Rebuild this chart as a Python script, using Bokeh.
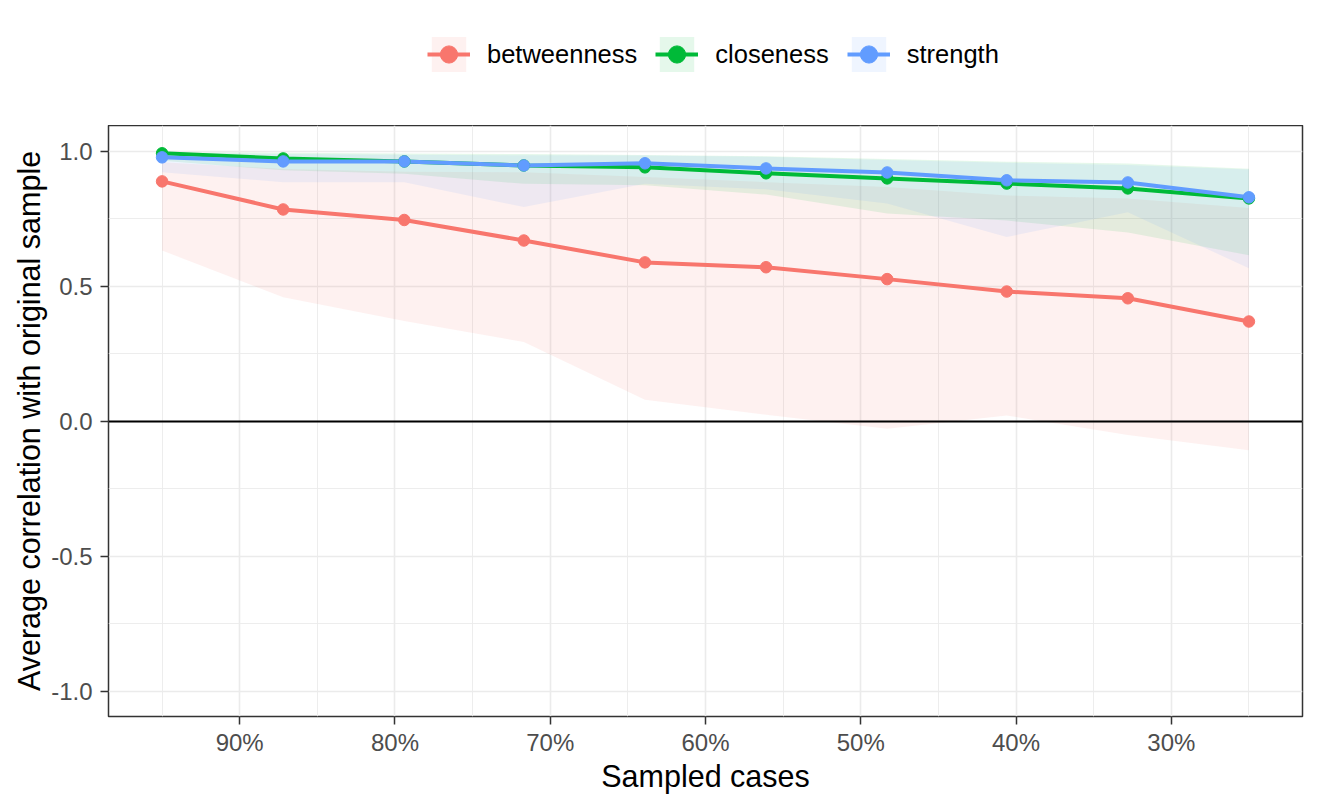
from bokeh.plotting import figure
from bokeh.layouts import column
from bokeh.models import (Range1d, FixedTicker, Legend, LegendItem, Span)
from bokeh.embed import file_html
from bokeh.resources import INLINE

# ---- data ----
sampled_pct = [95.0, 87.2, 79.4, 71.7, 63.9, 56.1, 48.3, 40.6, 32.8, 25.0]

betweenness_mean = [0.889, 0.785, 0.746, 0.670, 0.589, 0.571, 0.527, 0.481, 0.456, 0.370]
betweenness_low = [0.633, 0.460, 0.372, 0.294, 0.080, 0.025, -0.027, 0.022, -0.050, -0.107]
betweenness_high = [0.960, 0.935, 0.925, 0.923, 0.905, 0.886, 0.868, 0.837, 0.826, 0.790]

closeness_mean = [0.993, 0.974, 0.963, 0.948, 0.941, 0.919, 0.900, 0.881, 0.863, 0.826]
closeness_low = [0.965, 0.930, 0.917, 0.880, 0.875, 0.840, 0.770, 0.744, 0.700, 0.615]
closeness_high = [0.998, 0.995, 0.992, 0.990, 0.987, 0.982, 0.972, 0.962, 0.955, 0.936]

strength_mean = [0.978, 0.963, 0.963, 0.948, 0.956, 0.937, 0.922, 0.893, 0.885, 0.830]
strength_low = [0.923, 0.886, 0.886, 0.794, 0.880, 0.860, 0.807, 0.683, 0.775, 0.567]
strength_high = [0.995, 0.990, 0.988, 0.986, 0.985, 0.980, 0.968, 0.958, 0.950, 0.933]

series_names = ["betweenness", "closeness", "strength"]
series_colors = ["#F8766D", "#00BA38", "#619CFF"]

x_ticks = [90, 80, 70, 60, 50, 40, 30]
x_tick_labels = ["90%", "80%", "70%", "60%", "50%", "40%", "30%"]
x_minor = [95, 85, 75, 65, 55, 45, 35, 25]
y_ticks = [1.0, 0.5, 0.0, -0.5, -1.0]
y_tick_labels = ["1.0", "0.5", "0.0", "-0.5", "-1.0"]
y_minor = [0.75, 0.25, -0.25, -0.75]

FONT = "Liberation Sans"
LINE_W = 4
PT_SIZE = 11.5
BAND_ALPHA = 0.1

means = [betweenness_mean, closeness_mean, strength_mean]
lows = [betweenness_low, closeness_low, strength_low]
highs = [betweenness_high, closeness_high, strength_high]

X_RANGE = (98.45, 21.55)

# ---------------- main panel ----------------
p = figure(frame_width=1194, frame_height=591,
           min_border_left=108, min_border_right=16,
           min_border_top=0, min_border_bottom=92,
           x_range=Range1d(*X_RANGE), y_range=Range1d(-1.093, 1.096),
           output_backend="svg", toolbar_location=None,
           background_fill_color="white", border_fill_color="white")

p.outline_line_color = "#333333"
p.outline_line_width = 1.5

for g, ticks, minor in ((p.xgrid[0], x_ticks, x_minor), (p.ygrid[0], y_ticks, y_minor)):
    g.ticker = FixedTicker(ticks=ticks, minor_ticks=minor)
    g.grid_line_color = "#EBEBEB"
    g.grid_line_width = 1.6
    g.minor_grid_line_color = "#EBEBEB"
    g.minor_grid_line_width = 0.9

p.xaxis.ticker = FixedTicker(ticks=x_ticks, minor_ticks=[])
p.xaxis.major_label_overrides = {t: l for t, l in zip(x_ticks, x_tick_labels)}
p.yaxis.ticker = FixedTicker(ticks=y_ticks, minor_ticks=[])
p.yaxis.major_label_overrides = {t: l for t, l in zip(y_ticks, y_tick_labels)}
p.xaxis.axis_label = "Sampled cases"
p.yaxis.axis_label = "Average correlation with original sample"
for ax in (p.xaxis[0], p.yaxis[0]):
    ax.axis_line_color = None
    ax.major_tick_line_color = "#333333"
    ax.major_tick_line_width = 1.5
    ax.major_tick_out = 8
    ax.major_tick_in = 0
    ax.minor_tick_line_color = None
    ax.major_label_text_font = FONT
    ax.major_label_text_font_size = "24px"
    ax.major_label_text_color = "#4D4D4D"
    ax.axis_label_text_font = FONT
    ax.axis_label_text_font_size = "30.5px"
    ax.axis_label_text_font_style = "normal"
    ax.axis_label_text_color = "black"
p.xaxis.major_label_standoff = 4
p.xaxis.axis_label_standoff = 0
p.yaxis.major_label_standoff = 8
p.yaxis.axis_label_standoff = 2

p.add_layout(Span(location=0, dimension="width", line_color="black", line_width=2))

for lo, hi, c in zip(lows, highs, series_colors):
    p.varea(x=sampled_pct, y1=lo, y2=hi, fill_color=c, fill_alpha=BAND_ALPHA)
for m, c in zip(means, series_colors):
    p.line(x=sampled_pct, y=m, line_color=c, line_width=LINE_W)
for m, c in zip(means, series_colors):
    p.scatter(x=sampled_pct, y=m, size=PT_SIZE, fill_color=c, line_color=c)

# ---------------- legend strip (above the panel) ----------------
# the same series drawn into a strip whose y-range shows none of them,
# only so that the legend can show their keys
lg = figure(frame_width=1194, frame_height=125,
            min_border_left=108, min_border_right=16,
            min_border_top=0, min_border_bottom=0,
            x_range=Range1d(*X_RANGE), y_range=Range1d(10, 11),
            x_axis_location=None, y_axis_location=None,
            output_backend="svg", toolbar_location=None,
            background_fill_color="white", border_fill_color="white")
lg.outline_line_color = None
lg.grid.visible = False

items = []
for n, m, lo, hi, c in zip(series_names, means, lows, highs, series_colors):
    b = lg.varea(x=sampled_pct, y1=lo, y2=hi, fill_color=c, fill_alpha=BAND_ALPHA)
    l = lg.line(x=sampled_pct, y=m, line_color=c, line_width=LINE_W)
    s = lg.scatter(x=sampled_pct, y=m, size=PT_SIZE, fill_color=c, line_color=c)
    items.append(LegendItem(label=n, renderers=[b, l, s]))

legend = Legend(items=items, orientation="horizontal", location=(319, 49),
                glyph_width=43, glyph_height=44, label_height=44,
                label_standoff=17, spacing=18,
                padding=0, margin=0, border_line_color=None,
                background_fill_alpha=0.0,
                label_text_font=FONT, label_text_font_size="25.5px",
                label_text_color="black")
lg.add_layout(legend, "center")

layout = column(lg, p, spacing=0)
open("out.html", "w").write(file_html(layout, INLINE))
